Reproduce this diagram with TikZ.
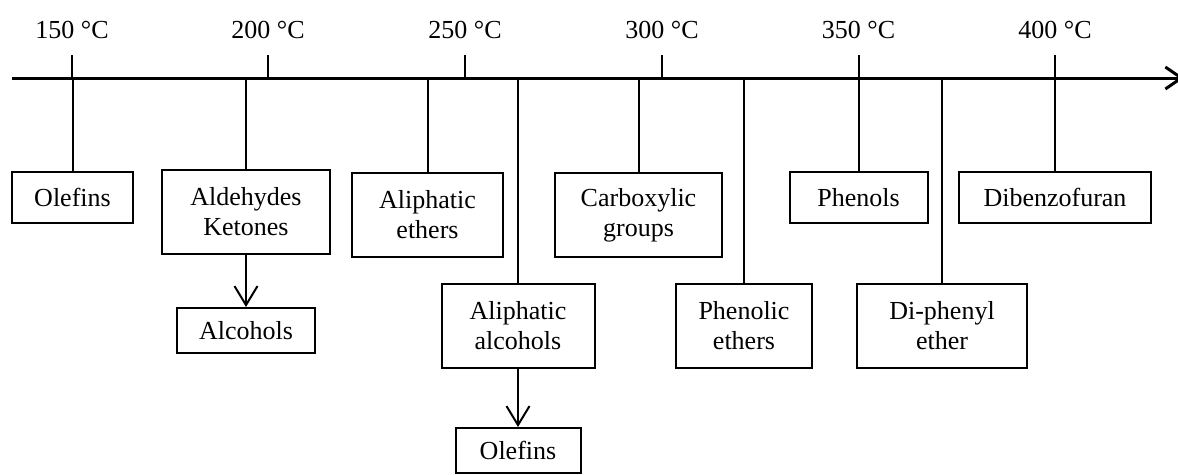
\documentclass[tikz,border=0pt]{standalone}
\usepackage{fontspec}
\setmainfont{Liberation Serif}
\usetikzlibrary{arrows.meta}
\begin{document}
\begin{tikzpicture}[x=1pt,y=-1pt,
  txt/.style={font=\fontsize{26}{30}\selectfont},
  box/.style={txt, draw, line width=2pt, align=center, anchor=north, inner sep=0pt},
  one/.style={box, minimum height=51pt},
  low/.style={box, minimum height=45pt},
  two/.style={box, minimum height=84pt},
  conn/.style={line width=2pt},
  arr/.style={conn, -{Straight Barb[length=19pt,width=23pt]}},
  lbl/.style={txt, anchor=base}]
\useasboundingbox (0,0) rectangle (1178,474);

% axis
\coordinate (axL) at (12,78);
\coordinate (axR) at (1184,78);
\draw[line width=3pt, -{Straight Barb[length=16pt,width=22pt]}] (axL) -- (axR);

% ticks and labels
\foreach \x/\t in {72/150, 268/200, 465/250, 662/300, 858.5/350, 1055/400} {
  \coordinate (t\t) at (\x,78);
  \coordinate (u\t) at (\x,55);
  \draw[conn] (t\t) -- (u\t);
  \node[lbl] (l\t) at (\x,38) {\t\ °C};
}

% boxes
\node[one, minimum width=121pt] (ol1)  at (72.5,171) {Olefins};
\node[two, minimum width=168pt] (ald)  at (246,169)  {Aldehydes\\Ketones};
\node[low, minimum width=138pt] (alc)  at (246,307)  {Alcohols};
\node[two, minimum width=151pt] (aeth) at (427.5,172) {Aliphatic\\ethers};
\node[two, minimum width=153pt] (aalc) at (518,283)  {Aliphatic\\alcohols};
\node[low, minimum width=125pt] (ol2)  at (518,427)  {Olefins};
\node[two, minimum width=167pt] (carb) at (638.5,172) {Carboxylic\\groups};
\node[two, minimum width=136pt] (peth) at (744,283)  {Phenolic\\ethers};
\node[one, minimum width=138pt] (phen) at (858.5,171) {Phenols};
\node[two, minimum width=170pt] (diph) at (942,283)  {Di-phenyl\\ether};
\node[one, minimum width=192pt] (dib)  at (1055,171) {Dibenzofuran};

% connectors from axis
\coordinate (c1) at (72.5,78);
\coordinate (c2) at (246,78);
\coordinate (c3) at (427.5,78);
\coordinate (c4) at (518,78);
\coordinate (c5) at (638.5,78);
\coordinate (c6) at (744,78);
\coordinate (c7) at (858.5,78);
\coordinate (c8) at (942,78);
\coordinate (c9) at (1055,78);
\draw[conn] (c1) -- (ol1.north);
\draw[conn] (c2) -- (ald.north);
\draw[conn] (c3) -- (aeth.north);
\draw[conn] (c4) -- (aalc.north);
\draw[conn] (c5) -- (carb.north);
\draw[conn] (c6) -- (peth.north);
\draw[conn] (c7) -- (phen.north);
\draw[conn] (c8) -- (diph.north);
\draw[conn] (c9) -- (dib.north);

% arrows
\draw[arr] (ald.south) -- (alc.north);
\draw[arr] (aalc.south) -- (ol2.north);
\end{tikzpicture}
\end{document}
